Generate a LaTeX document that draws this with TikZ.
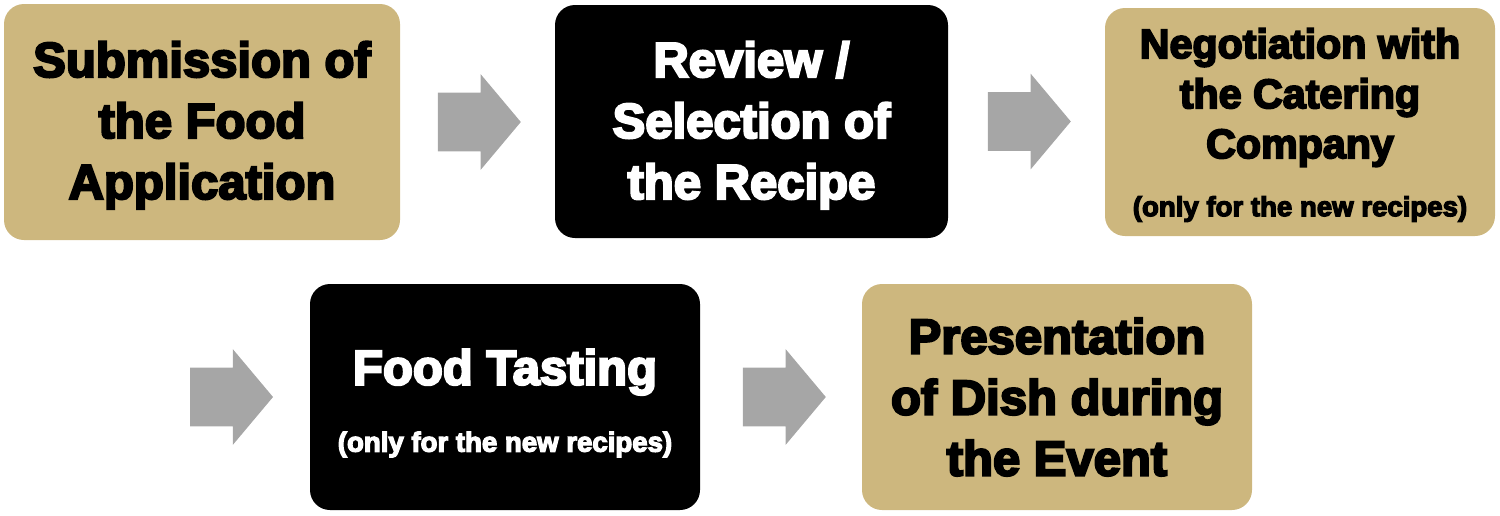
\documentclass[tikz,border=0pt]{standalone}
\usepackage{fontspec}
\newfontfamily\heavy{Liberation Sans Bold}[FakeBold=4.5]
\usetikzlibrary{shapes.arrows,calc}
\definecolor{tan}{RGB}{205,183,126}
\definecolor{arrgray}{RGB}{166,166,166}
\newcommand{\lift}[1]{\rule{0pt}{#1}}
\begin{document}
\begin{tikzpicture}[x=0.5pt,y=-0.5pt,
  box/.style={rounded corners=10pt, inner sep=0pt, align=center,
    minimum width=195pt, minimum height=114pt, font=\heavy\fontsize{24.5}{30.5}\selectfont},
  tanbox/.style={box, fill=tan, text=black},
  blackbox/.style={box, fill=black, text=white},
  blockarrow/.style={single arrow, fill=arrgray, draw=none, inner sep=0pt,
    minimum height=41.5pt, single arrow head extend=9.25pt,
    single arrow tip angle=100, anchor=tail},
  small/.style={font=\heavy\fontsize{13.8}{16}\selectfont}
]
\useasboundingbox (0,0) rectangle (1500,515);
\node[tanbox, minimum width=198pt, minimum height=118pt] (b1) at (202,122)
  {\lift{21pt}Submission of\\the Food\\Application};
\node[blackbox, minimum width=196.5pt, minimum height=116.5pt] (b2) at (751.5,121.5)
  {\lift{21.5pt}Review /\\Selection of\\the Recipe};
\node[tanbox, minimum width=195pt, minimum height=114pt,
  font=\heavy\fontsize{20.6}{25}\selectfont] (b3) at (1300,122)
  {\lift{18pt}Negotiation with\\the Catering\\Company\\[4pt]{\heavy\fontsize{13.8}{16}\selectfont (only for the new recipes)}};
\node[blackbox, minimum width=195pt, minimum height=113pt] (b4) at (505,397)
  {\lift{24pt}Food Tasting\\[3pt]{\heavy\fontsize{13.8}{16}\selectfont (only for the new recipes)}};
\node[tanbox, minimum width=195pt, minimum height=113pt] (b5) at (1057,397)
  {Presentation\\of Dish during\\the Event};
\node[blockarrow] (a1) at ($(b1.east)+(37,0)$) {\rule{0pt}{29pt}};
\node[blockarrow] (a2) at ($(b2.east)+(39,0)$) {\rule{0pt}{29pt}};
\node[blockarrow] (a3) at ($(b4.west)+(-120,0)$) {\rule{0pt}{29pt}};
\node[blockarrow] (a4) at ($(b4.east)+(42,0)$) {\rule{0pt}{29pt}};
\end{tikzpicture}
\end{document}
